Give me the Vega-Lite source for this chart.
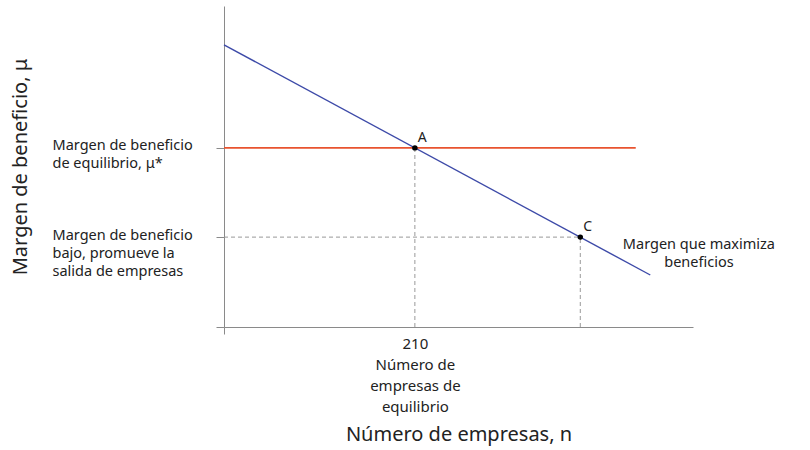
{
  "$schema": "https://vega.github.io/schema/vega-lite/v6.json",
  "width": 469,
  "height": 321,
  "autosize": "none",
  "padding": {"left": 224, "top": 6, "right": 117, "bottom": 123},
  "background": "white",
  "config": {
    "view": {"stroke": null},
    "font": "Noto Sans",
    "axis": {"grid": false, "domainColor": "#8a8a8a", "tickColor": "#8a8a8a", "labelColor": "#222", "titleColor": "#222", "labelFont": "Noto Sans", "titleFont": "Noto Sans", "titleFontWeight": "normal"}
  },
  "datasets": {
    "curve": [
      {"n": 0, "mu": 87.9},
      {"n": 469, "mu": 16.2}
    ],
    "equilibrium": [
      {"n": 0, "mu": 55.8},
      {"n": 453, "mu": 55.8}
    ],
    "guides": [
      {"seg": "a", "n": 210, "mu": 0},
      {"seg": "a", "n": 210, "mu": 55.8},
      {"seg": "h", "n": 0, "mu": 28},
      {"seg": "h", "n": 392, "mu": 28},
      {"seg": "c", "n": 392, "mu": 0},
      {"seg": "c", "n": 392, "mu": 28}
    ],
    "points": [
      {"label": "A", "n": 210, "mu": 55.8},
      {"label": "C", "n": 392, "mu": 28}
    ],
    "notes": [
      {"text": "Margen que maximiza\nbeneficios", "n": 522.5, "mu": 27.8}
    ]
  },
  "encoding": {
    "x": {
      "field": "n",
      "type": "quantitative",
      "scale": {"domain": [0, 516], "nice": false, "zero": false},
      "axis": {
        "values": [0, 210],
        "tickSize": 7,
        "tickColor": {"condition": {"test": "datum.value == 0", "value": "#8a8a8a"}, "value": "transparent"},
        "labelExpr": "datum.value == 210 ? ['210', 'Número de', 'empresas de', 'equilibrio'] : ''",
        "labelFontSize": 15,
        "labelLineHeight": 21,
        "labelPadding": 2,
        "title": "Número de empresas, n",
        "titleFontSize": 20,
        "titlePadding": 10
      }
    },
    "y": {
      "field": "mu",
      "type": "quantitative",
      "scale": {"domain": [0, 100], "nice": false, "zero": false},
      "axis": {
        "values": [0, 28, 55.8],
        "tickSize": 8,
        "labelExpr": "datum.value == 55.8 ? ['Margen de beneficio', 'de equilibrio, μ*'] : datum.value == 28 ? ['Margen de beneficio', 'bajo, promueve la', 'salida de empresas'] : ''",
        "labelAlign": "left",
        "labelBaseline": "top",
        "labelOffset": -9,
        "labelPadding": 164,
        "labelFontSize": 14.5,
        "labelLineHeight": 18,
        "title": "Margen de beneficio, μ",
        "titleFontSize": 20,
        "titlePadding": 22
      }
    }
  },
  "layer": [
    {
      "data": {"name": "guides"},
      "mark": {"type": "line", "color": "#999", "strokeWidth": 1, "strokeDash": [4, 3]},
      "encoding": {"detail": {"field": "seg"}}
    },
    {
      "data": {"name": "equilibrium"},
      "mark": {"type": "line", "color": "#e8532f", "strokeWidth": 1.6},
      "encoding": {}
    },
    {
      "data": {"name": "curve"},
      "mark": {"type": "line", "color": "#3d4aa8", "strokeWidth": 1.4},
      "encoding": {}
    },
    {
      "data": {"name": "points"},
      "mark": {"type": "circle", "color": "black", "size": 30, "opacity": 1},
      "encoding": {}
    },
    {
      "data": {"name": "points"},
      "mark": {"type": "text", "align": "left", "dx": 3, "dy": -10, "fontSize": 14, "color": "#222"},
      "encoding": {"text": {"field": "label"}}
    },
    {
      "data": {"name": "notes"},
      "mark": {"type": "text", "align": "center", "baseline": "top", "lineBreak": "\n", "lineHeight": 18, "fontSize": 14.5, "color": "#222"},
      "encoding": {"text": {"field": "text"}}
    }
  ]
}
